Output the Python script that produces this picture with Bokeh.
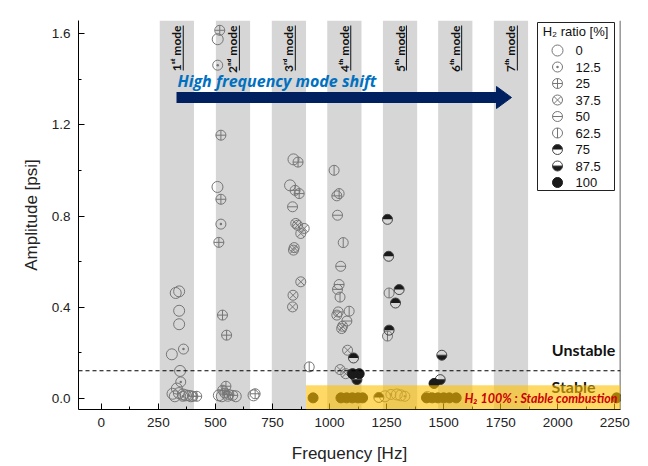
import math
from bokeh.plotting import figure
from bokeh.models import (Range1d, SingleIntervalTicker, Span, BoxAnnotation, Label,
                          ColumnDataSource, NumeralTickFormatter)
from bokeh.embed import file_html
from bokeh.resources import INLINE

# ---------------- data ----------------
h2_ratios = ["0", "12.5", "25", "37.5", "50", "62.5", "75", "87.5", "100"]

freq_0 = [326, 341, 341, 341, 309, 345, 312, 331, 340, 357, 370, 392, 322,
          510, 509, 515, 528, 589, 667, 842, 827, 1243, 1295, 1312, 1429]
amp_0 = [0.463, 0.470, 0.385, 0.326, 0.194, 0.121, 0.021, 0.044, 0.024, 0.018, 0.014, 0.010, 0.010,
         1.576, 0.928, 0.014, 0.010, 0.010, 0.014, 1.049, 0.935, 0.010, 0.018, 0.014, 0.007]

freq_12_5 = [360, 348, 383, 357, 510, 524, 554, 1269, 1330]
amp_12_5 = [0.217, 0.073, 0.014, 0.010, 1.462, 0.765, 0.010, 0.018, 0.010]

freq_25 = [401, 418, 519, 524, 524, 515, 531, 549, 546, 532, 541, 559, 576, 674, 862, 849, 867]
amp_25 = [0.010, 0.010, 1.615, 1.155, 0.874, 0.685, 0.366, 0.278, 0.054, 0.037, 0.024, 0.018,
          0.014, 0.021, 1.037, 0.913, 0.899]

freq_37_5 = [852, 860, 874, 889, 845, 842, 874, 840, 838, 1032, 1053, 1057, 1079, 1046, 1071]
amp_37_5 = [0.768, 0.760, 0.724, 0.746, 0.662, 0.651, 0.512, 0.453, 0.402, 0.366, 0.307, 0.317,
            0.212, 0.127, 0.109]

freq_50 = [838, 1032, 1035, 1049, 1042, 1035, 1038, 1076]
amp_50 = [0.841, 0.889, 0.804, 0.580, 0.500, 0.479, 0.380, 0.340]

freq_62_5 = [911, 1020, 1042, 1060, 1046, 1086, 1261, 1254]
amp_62_5 = [0.139, 1.001, 0.899, 0.684, 0.445, 0.383, 0.463, 0.274]

freq_75 = [1105, 1108, 1254, 1259, 1305, 1289, 1261, 1216]
amp_75 = [0.178, 0.102, 0.786, 0.624, 0.478, 0.419, 0.300, 0.005]

freq_87_5 = [1120, 1492, 1485]
amp_87_5 = [0.083, 0.190, 0.083]

freq_100 = [1130, 1101, 1458, 928, 1050, 1075, 1100, 1125, 1145, 1425, 1450, 1475, 1500, 1525, 1555, 2258]
amp_100 = [0.109, 0.109, 0.066, 0.003, 0.003, 0.003, 0.003, 0.003, 0.003, 0.003, 0.003, 0.003,
           0.003, 0.003, 0.003, 0.003]

mode_start = [256, 502, 747, 990, 1234, 1476, 1720]
mode_width = 150
mode_labels = ["1\u02e2\u1d57 mode", "2\u207f\u1d48 mode", "3\u02b3\u1d48 mode", "4\u1d57\u02b0 mode",
               "5\u1d57\u02b0 mode", "6\u1d57\u02b0 mode", "7\u1d57\u02b0 mode"]

threshold_text = "0.15"     # threshold label as printed
threshold_level = 0.122     # where the dashed threshold line is drawn in the figure
stable_top = 0.058

# ---------------- figure ----------------
p = figure(frame_width=542, frame_height=389,
           x_range=Range1d(-100, 2275), y_range=Range1d(-0.048, 1.658),
           output_backend="svg", toolbar_location=None,
           min_border_left=78, min_border_right=26, min_border_top=20, min_border_bottom=57)
# helper ranges in page-pixel units for annotations
p.extra_x_ranges = {"px": Range1d(78, 620)}
p.extra_y_ranges = {"px": Range1d(409, 20)}

p.outline_line_color = None
p.xgrid.visible = False
p.ygrid.visible = False
p.background_fill_color = "white"

for ax in (p.xaxis, p.yaxis):
    ax.axis_line_color = "black"
    ax.major_tick_line_color = "black"
    ax.minor_tick_line_color = "black"
    ax.major_tick_in = 6
    ax.major_tick_out = 0
    ax.minor_tick_in = 3
    ax.minor_tick_out = 0
    ax.major_label_text_font = "Liberation Sans"
    ax.major_label_text_font_size = "13.5px"
    ax.major_label_text_color = "#222222"
    ax.axis_label_text_font = "Liberation Sans"
    ax.axis_label_text_font_size = "17px"
    ax.axis_label_text_font_style = "normal"
    ax.axis_label_text_color = "#222222"

p.xaxis.ticker = SingleIntervalTicker(interval=250, num_minor_ticks=2)
p.yaxis.ticker = SingleIntervalTicker(interval=0.4, num_minor_ticks=2)
p.yaxis.formatter = NumeralTickFormatter(format="0.0")
p.xaxis.axis_label = "Frequency [Hz]"
p.yaxis.axis_label = "Amplitude [psi]"
p.xaxis.major_label_standoff = 8
p.xaxis.axis_label_standoff = 14
p.yaxis.major_label_standoff = 8
p.yaxis.axis_label_standoff = 8

# mode bands
for s in mode_start:
    p.add_layout(BoxAnnotation(left=s, right=s + mode_width, fill_color="#d6d6d6", fill_alpha=1.0,
                               line_color=None, level="underlay"))

# threshold line
p.add_layout(Span(location=threshold_level, dimension="width", line_color="black",
                  line_dash="4 3", line_width=1.2))
# right border
p.add_layout(Span(location=2274, dimension="height", line_color="black", line_width=1))

LC = "#767676"
DARK = "#1a1a1a"


def draw(kind, x, y, xr="default", yr="default", size=11):
    src = ColumnDataSource(dict(x=x, y=y))
    kw = dict(source=src, x_range_name=xr, y_range_name=yr)
    if kind == "0":
        p.scatter("x", "y", marker="circle", size=size, fill_alpha=0, line_color=LC, line_width=1, **kw)
    elif kind == "12.5":
        p.scatter("x", "y", marker="circle_dot", size=size - 1, fill_alpha=0, line_color=LC, line_width=1, **kw)
    elif kind == "25":
        p.scatter("x", "y", marker="circle_cross", size=size - 1, fill_alpha=0, line_color=LC, line_width=1, **kw)
    elif kind == "37.5":
        p.scatter("x", "y", marker="circle_x", size=size - 1, fill_alpha=0, line_color=LC, line_width=1, **kw)
    elif kind == "50":
        p.scatter("x", "y", marker="circle", size=size - 1, fill_alpha=0, line_color=LC, line_width=1, **kw)
        p.scatter("x", "y", marker="dash", size=size - 1, line_color=LC, line_width=1, **kw)
    elif kind == "62.5":
        p.scatter("x", "y", marker="circle", size=size - 1, fill_alpha=0, line_color=LC, line_width=1, **kw)
        p.scatter("x", "y", marker="dash", size=size - 1, angle=math.pi / 2, line_color=LC, line_width=1, **kw)
    elif kind == "75":
        p.wedge("x", "y", radius=(size - 1) / 2, radius_units="screen", start_angle=0, end_angle=math.pi,
                fill_color=DARK, line_color=None, **kw)
        p.scatter("x", "y", marker="circle", size=size - 1, fill_alpha=0, line_color="#444444", line_width=1, **kw)
    elif kind == "87.5":
        p.wedge("x", "y", radius=(size - 1) / 2, radius_units="screen", start_angle=math.pi,
                end_angle=2 * math.pi, fill_color=DARK, line_color=None, **kw)
        p.scatter("x", "y", marker="circle", size=size - 1, fill_alpha=0, line_color="#444444", line_width=1, **kw)
        p.scatter("x", "y", marker="dash", size=size - 1, line_color="#444444", line_width=1, **kw)
    elif kind == "100":
        p.scatter("x", "y", marker="circle", size=size - 1, fill_color=DARK, line_color=DARK, line_width=1, **kw)


series = [("0", freq_0, amp_0), ("12.5", freq_12_5, amp_12_5), ("25", freq_25, amp_25),
          ("37.5", freq_37_5, amp_37_5), ("50", freq_50, amp_50), ("62.5", freq_62_5, amp_62_5),
          ("75", freq_75, amp_75), ("87.5", freq_87_5, amp_87_5), ("100", freq_100, amp_100)]
for kind, fx, ay in series:
    draw(kind, fx, ay)

# mode labels (rotated, underlined)
for s, lab in zip(mode_start, mode_labels):
    c = s + mode_width / 2
    p.add_layout(Label(x=c, y=25, y_range_name="px", text=lab, angle=math.pi / 2,
                       text_align="right", text_baseline="middle", text_font="Lato",
                       text_font_style="bold", text_font_size="12px", text_color="#111111"))
    p.segment(x0=[c + 28], x1=[c + 28], y0=[25], y1=[70], y_range_name="px",
              line_color="#111111", line_width=1)

# arrow
p.segment(x0=[176], x1=[497], y0=[97], y1=[97], x_range_name="px", y_range_name="px",
          line_color="#002060", line_width=11)
p.patch(x=[496, 511, 496], y=[86, 97, 108], x_range_name="px", y_range_name="px",
        fill_color="#002060", line_color="#002060")
p.add_layout(Label(x=177, y=80, x_range_name="px", y_range_name="px", text="High frequency mode shift",
                   text_align="left", text_baseline="middle", text_font="Open Sans",
                   text_font_style="bold italic", text_font_size="16px", text_color="#0070C0"))

# stability annotations
p.add_layout(Label(x=583, y=349, x_range_name="px", y_range_name="px", text="Unstable",
                   text_align="center", text_baseline="middle", text_font="Lato",
                   text_font_style="bold", text_font_size="16px", text_color="#111111"))
p.add_layout(Label(x=573, y=386, x_range_name="px", y_range_name="px", text="Stable",
                   text_align="center", text_baseline="middle", text_font="Lato",
                   text_font_style="bold", text_font_size="16px", text_color="#111111"))
p.add_layout(BoxAnnotation(left=mode_start[2] + mode_width, top=stable_top, fill_color="#FFC000",
                           fill_alpha=0.6, line_color=None))
p.add_layout(Label(x=617, y=398, x_range_name="px", y_range_name="px",
                   text="H\u2082 100% : Stable combustion",
                   text_align="right", text_baseline="middle", text_font="Lato",
                   text_font_style="bold italic", text_font_size="12.5px", text_color="#CC0000"))

# red threshold tick label
p.add_layout(Label(x=71, y=threshold_level, x_range_name="px", text=threshold_text, text_align="right",
                   text_baseline="middle", text_font="Lato", text_font_style="bold",
                   text_font_size="14px", text_color="#FF0000"))

# ---------------- manual legend ----------------
p.quad(left=[537], right=[614], top=[22], bottom=[190], x_range_name="px", y_range_name="px",
       fill_color="white", line_color="#222222", line_width=1)
p.add_layout(Label(x=575, y=31, x_range_name="px", y_range_name="px", text="H\u2082 ratio [%]",
                   text_align="center", text_baseline="middle", text_font="Liberation Sans",
                   text_font_size="13px", text_color="#111111"))
for i, r in enumerate(h2_ratios):
    yy = 50 + i * 16.5
    draw(r, [557], [yy], xr="px", yr="px", size=11)
    p.add_layout(Label(x=575, y=yy, x_range_name="px", y_range_name="px", text=r,
                       text_align="left", text_baseline="middle", text_font="Liberation Sans",
                       text_font_size="13px", text_color="#111111"))

open("out.html", "w").write(file_html(p, INLINE))
